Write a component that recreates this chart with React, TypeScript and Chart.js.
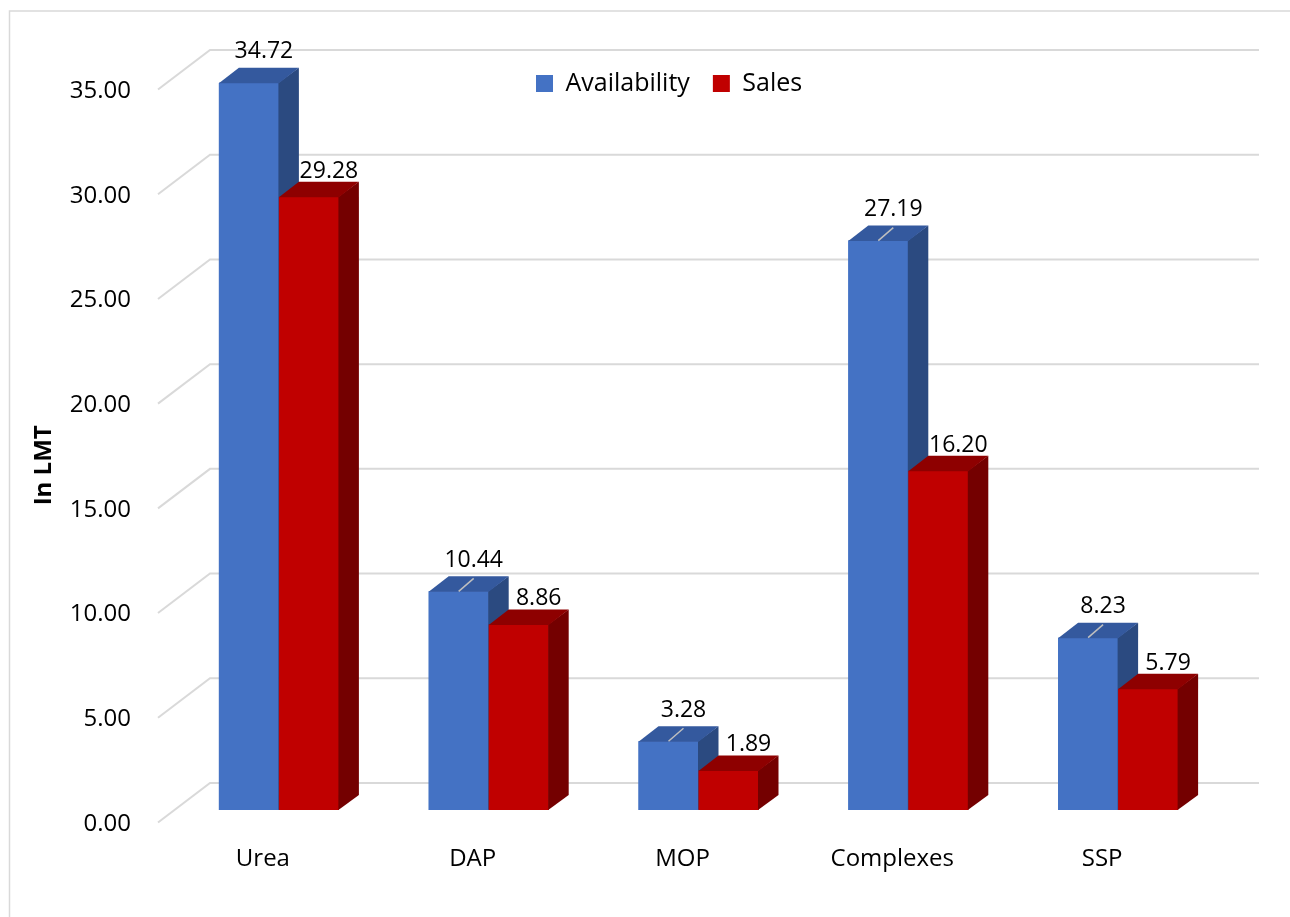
import React, { useEffect, useRef } from 'react';
import { Chart, registerables } from 'chart.js';

Chart.register(...registerables);

const categories = ['Urea', 'DAP', 'MOP', 'Complexes', 'SSP'];
const seriesNames = ['Availability', 'Sales'];
const availability = [34.72, 10.44, 3.28, 27.19, 8.23];
const sales = [29.28, 8.86, 1.89, 16.2, 5.79];
const yTicks = [0, 5, 10, 15, 20, 25, 30, 35];

const FONT = "'Open Sans', 'Noto Sans', sans-serif";
const FRONT = ['#4472C4', '#C00000'];
const TOP = ['#34599E', '#8E0000'];
const SIDE = ['#2B4A80', '#740000'];
const GRID = '#D9D9D9';
const DEPTH_X = 20;
const DEPTH_Y = -15;
const FRONT_DX = -16;
const FRONT_DY = 12.5;
const BACK_DX = 36;
const BACK_DY = -27;
const LABEL_DX = [15, 20];
const LABEL_DY = [-24.5, -19];
const LEADER = [false, true, true, true, true];

const threeD = {
  id: 'threeD',
  beforeDraw(chart: any) {
    const ctx = chart.ctx;
    ctx.save();
    ctx.fillStyle = '#ffffff';
    ctx.fillRect(0, 0, chart.width, chart.height);
    ctx.strokeStyle = GRID;
    ctx.lineWidth = 1.5;
    ctx.strokeRect(9.5, 11, chart.width + 40, chart.height + 40);
    ctx.restore();
    const lg = chart.legend;
    if (lg) {
      const pad = lg.options.labels.padding;
      const fs = lg.options.labels.font.size;
      const bh = lg.options.labels.boxHeight;
      const w = lg.width;
      const h = lg.height;
      lg.left = 536 - pad;
      lg.right = lg.left + w;
      lg.top = 75 - pad - (fs - bh) / 2;
      lg.bottom = lg.top + h;
    }
  },
  beforeDatasetsDraw(chart: any) {
    const ctx = chart.ctx;
    const y = chart.scales.y;
    const { left, right } = chart.chartArea;
    ctx.save();
    ctx.strokeStyle = GRID;
    ctx.lineWidth = 2;
    for (const t of y.ticks) {
      const py = y.getPixelForValue(t.value);
      ctx.beginPath();
      ctx.moveTo(left + FRONT_DX, py + FRONT_DY);
      ctx.lineTo(left + BACK_DX, py + BACK_DY);
      ctx.lineTo(right + BACK_DX, py + BACK_DY);
      ctx.stroke();
    }
    ctx.restore();
  },
  afterDatasetsDraw(chart: any) {
    const ctx = chart.ctx;
    const n = chart.data.labels.length;
    const nd = chart.data.datasets.length;
    // 3D faces, drawn per category so that later series cover earlier sides
    ctx.save();
    for (let j = 0; j < n; j++) {
      for (let i = 0; i < nd; i++) {
        const bar = chart.getDatasetMeta(i).data[j];
        if (!bar) continue;
        const { x, y, base, width } = bar.getProps(['x', 'y', 'base', 'width'], true);
        const l = x - width / 2;
        const r = x + width / 2;
        bar.draw(ctx);
        ctx.fillStyle = SIDE[i];
        ctx.beginPath();
        ctx.moveTo(r - 0.5, y);
        ctx.lineTo(r + DEPTH_X, y + DEPTH_Y);
        ctx.lineTo(r + DEPTH_X, base + DEPTH_Y);
        ctx.lineTo(r - 0.5, base);
        ctx.closePath();
        ctx.fill();
        ctx.fillStyle = TOP[i];
        ctx.beginPath();
        ctx.moveTo(l, y + 0.5);
        ctx.lineTo(l + DEPTH_X, y + DEPTH_Y);
        ctx.lineTo(r + DEPTH_X, y + DEPTH_Y);
        ctx.lineTo(r, y + 0.5);
        ctx.closePath();
        ctx.fill();
      }
    }
    ctx.restore();

    // data labels
    ctx.save();
    ctx.font = `23px ${FONT}`;
    ctx.fillStyle = '#000000';
    ctx.textAlign = 'center';
    ctx.textBaseline = 'alphabetic';
    chart.data.datasets.forEach((ds: any, i: number) => {
      const meta = chart.getDatasetMeta(i);
      meta.data.forEach((bar: any, j: number) => {
        const { x, y } = bar.getProps(['x', 'y'], true);
        if (i === 0 && LEADER[j]) {
          ctx.save();
          ctx.strokeStyle = '#BFBFBF';
          ctx.lineWidth = 1.5;
          ctx.beginPath();
          ctx.moveTo(x, y);
          ctx.lineTo(x + 15, y - 13);
          ctx.stroke();
          ctx.restore();
        }
        ctx.fillText(Number(ds.data[j]).toFixed(2), x + LABEL_DX[i], y + LABEL_DY[i]);
      });
    });
    ctx.restore();
  },
};

export default function App() {
  const ref = useRef<HTMLCanvasElement>(null);
  useEffect(() => {
    if (!ref.current) return;
    Chart.defaults.font.family = FONT;
    const chart = new Chart(ref.current, {
      type: 'bar',
      data: {
        labels: categories,
        datasets: [
          { label: seriesNames[0], data: availability, backgroundColor: FRONT[0], borderWidth: 0 },
          { label: seriesNames[1], data: sales, backgroundColor: FRONT[1], borderWidth: 0 },
        ],
      },
      options: {
        responsive: false,
        animation: false,
        devicePixelRatio: 1,
        layout: { padding: { top: 19, right: 67, left: 0, bottom: 0 } },
        datasets: { bar: { categoryPercentage: 0.572, barPercentage: 1 } },
        plugins: {
          legend: {
            position: 'top',
            align: 'start',
            labels: {
              boxWidth: 17,
              boxHeight: 17,
              padding: 23,
              color: '#000000',
              font: { size: 25, family: FONT },
            },
          },
          tooltip: { enabled: false },
        },
        scales: {
          x: {
            type: 'category',
            grid: { display: false, drawTicks: false },
            border: { display: false },
            ticks: {
              color: '#000000',
              font: { size: 24, family: FONT },
              padding: 35,
              labelOffset: -16,
              maxRotation: 0,
              autoSkip: false,
            },
            afterFit: (s: any) => {
              s.height = 107;
            },
          },
          y: {
            min: 0,
            max: 35,
            grid: { display: false, drawTicks: false },
            border: { display: false },
            afterBuildTicks: (s: any) => {
              s.ticks = yTicks.map((v) => ({ value: v }));
            },
            ticks: {
              padding: 43,
              labelOffset: 14,
              color: '#000000',
              font: { size: 24, family: FONT },
              callback: (v: any) => Number(v).toFixed(2),
            },
            title: {
              display: true,
              text: 'In LMT' + '       ',
              color: '#000000',
              font: { size: 24, weight: 'bold', family: FONT },
              padding: { top: 30, bottom: 0 },
            },
            afterFit: (s: any) => {
              s.width = 174;
            },
          },
        },
      },
      plugins: [threeD],
    } as any);
    return () => chart.destroy();
  }, []);
  return (
    <div style={{ position: 'absolute', left: 0, top: 0, width: 1290, height: 917, background: '#fff' }}>
      <canvas ref={ref} width={1290} height={917} style={{ display: 'block' }} />
    </div>
  );
}
